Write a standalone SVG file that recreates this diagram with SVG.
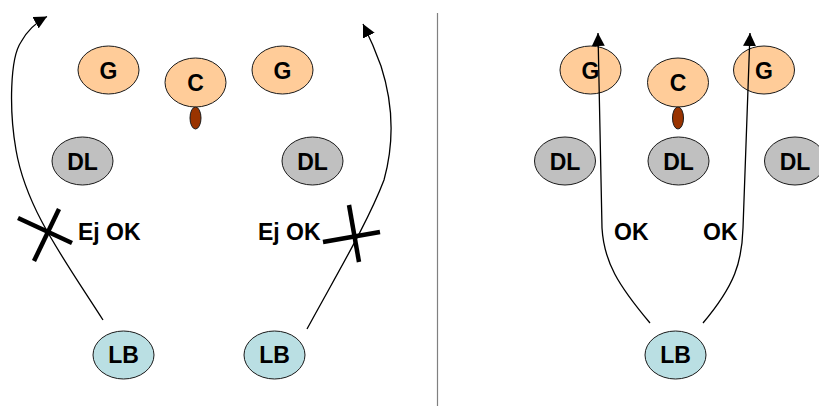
<svg xmlns="http://www.w3.org/2000/svg" width="819" height="406" viewBox="0 0 819 406">
<style>
.n ellipse{stroke:#1a1a1a;stroke-width:1}
.g{fill:#FFCC99}
.dl{fill:#C0C0C0}
.lb{fill:#BADFE3}
.ball{fill:#993300;stroke:#1a1a1a;stroke-width:1}
text{font-family:"Liberation Sans",Arial,sans-serif;font-weight:bold;font-size:23px;fill:#000;text-anchor:middle}
.lbl{text-anchor:start}
.c path{fill:none;stroke:#000;stroke-width:1.3}
.x line{stroke:#000;stroke-width:4.5}
</style>
<defs>
<marker id="ah" markerUnits="userSpaceOnUse" markerWidth="13" markerHeight="13" refX="12" refY="6" orient="auto" viewBox="0 0 12 12">
<path d="M0,0 L12,6 L0,12 z" fill="#000"/>
</marker>
</defs>
<rect width="819" height="406" fill="#fff"/>
<line x1="437.5" y1="13" x2="437.5" y2="406" stroke="#808080" stroke-width="1.2"/>

<!-- left panel nodes -->
<g id="l-g1" class="n"><ellipse class="g" cx="108.5" cy="70" rx="30.5" ry="24"/><text x="108.5" y="78.5">G</text></g>
<g id="l-c" class="n"><ellipse class="g" cx="195.5" cy="82.5" rx="30.5" ry="24.5"/><text x="195.5" y="91">C</text></g>
<g id="l-ball"><ellipse class="ball" cx="195.5" cy="118" rx="5.5" ry="11"/></g>
<g id="l-g2" class="n"><ellipse class="g" cx="282.5" cy="70" rx="30.5" ry="24"/><text x="282.5" y="78.5">G</text></g>
<g id="l-dl1" class="n"><ellipse class="dl" cx="82.5" cy="161" rx="30.5" ry="24"/><text x="82.5" y="169.5">DL</text></g>
<g id="l-dl2" class="n"><ellipse class="dl" cx="312.5" cy="161" rx="30.5" ry="24"/><text x="312.5" y="169.5">DL</text></g>
<g id="l-lb1" class="n"><ellipse class="lb" cx="123.5" cy="355" rx="30.5" ry="24"/><text x="123.5" y="363">LB</text></g>
<g id="l-lb2" class="n"><ellipse class="lb" cx="274.5" cy="355" rx="30.5" ry="24"/><text x="274.5" y="363">LB</text></g>

<!-- right panel nodes -->
<g id="r-g1" class="n"><ellipse class="g" cx="590.5" cy="70" rx="30.5" ry="24"/><text x="590.5" y="78.5">G</text></g>
<g id="r-c" class="n"><ellipse class="g" cx="678" cy="82.5" rx="30.5" ry="24.5"/><text x="678" y="91">C</text></g>
<g id="r-ball"><ellipse class="ball" cx="678" cy="118" rx="5.5" ry="11"/></g>
<g id="r-g2" class="n"><ellipse class="g" cx="764" cy="70" rx="30.5" ry="24"/><text x="764" y="78.5">G</text></g>
<g id="r-dl1" class="n"><ellipse class="dl" cx="565" cy="161" rx="30.5" ry="24"/><text x="565" y="169.5">DL</text></g>
<g id="r-dl2" class="n"><ellipse class="dl" cx="678.5" cy="161" rx="30.5" ry="24"/><text x="678.5" y="169.5">DL</text></g>
<g id="r-dl3" class="n"><ellipse class="dl" cx="795" cy="161" rx="30.5" ry="24"/><text x="795" y="169.5">DL</text></g>
<g id="r-lb" class="n"><ellipse class="lb" cx="675.5" cy="355" rx="30.5" ry="24"/><text x="675.5" y="363">LB</text></g>

<!-- connectors -->
<g id="connectors" class="c">
<path d="M103,320 C 62,256 26,208 16,150 C 9,110 10,58 21,42 C 27,31 35,23 47,16.5" marker-end="url(#ah)"/>
<path d="M307,329 C 338,272 368,222 384,180 C 395,140 392,100 381,66 C 376,52 370,38 363,24" marker-end="url(#ah)"/>
<path d="M650,323 C 618,285 604,262 602,228 L 598,33" marker-end="url(#ah)"/>
<path d="M703,323 C 735,285 742,262 743,228 L 750,33" marker-end="url(#ah)"/>
</g>

<g id="x-marks" class="x">
<line x1="18" y1="218" x2="72" y2="243"/>
<line x1="59" y1="209" x2="34" y2="261"/>
<line x1="323" y1="242" x2="380" y2="232"/>
<line x1="349" y1="205" x2="359" y2="262"/>
</g>

<g id="labels">
<text class="lbl" x="78" y="240">Ej OK</text>
<text class="lbl" x="258" y="240">Ej OK</text>
<text class="lbl" x="614" y="240">OK</text>
<text class="lbl" x="703" y="240">OK</text>
</g>
</svg>
